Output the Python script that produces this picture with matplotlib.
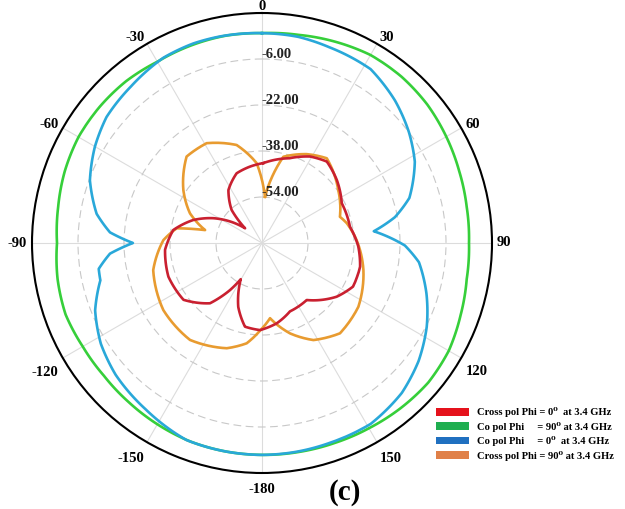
import numpy as np
import matplotlib
matplotlib.use("Agg")
import matplotlib.pyplot as plt
from matplotlib.patches import Patch
from matplotlib.transforms import offset_copy

# ---------------- data (angle in degrees clockwise from top, gain in dB) ----------------
green_ang = [0, 10, 20, 30, 40, 50, 60, 70, 80, 90, 100, 110, 120, 130, 140, 150, 160, 170,
             180, 190, 200, 210, 220, 230, 240, 250, 260, 270, 280, 290, 300, 310, 320, 330, 340, 350, 360]
green_db = [3.0, 3.5, 4.5, 5.5, 5.5, 5.0, 4.0, 3.0, 2.3, 2.0, 2.3, 3.5, 5.0, 5.5, 5.0, 4.4, 4.0, 3.8,
            3.7, 3.6, 3.4, 2.8, 2.2, 1.8, 2.0, 2.7, 2.2, 1.3, 2.0, 3.0, 3.7, 3.7, 3.5, 2.8, 3.0, 3.2, 3.0]

blue_ang = [0, 10, 19, 32, 43, 53, 62, 73, 79, 84, 91, 97, 107, 117, 127, 137, 149, 161, 171, 180,
            190, 201, 215, 228, 238, 248, 257, 261, 266, 270, 274, 280, 290, 300, 309, 320, 332, 341, 349, 360]
blue_db = [3.0, 2.8, 2.0, 1.3, -2.2, -6.0, -9.8, -16.4, -22.9, -30.9, -20.3, -15.0, -10.2, -5.7, -1.8,
           1.3, 3.4, 3.4, 3.6, 3.7, 3.6, 3.4, 0.6, -1.5, -3.9, -7.4, -12.3, -12.5, -17.0, -25.1, -17.0,
           -11.6, -6.3, -2.9, -0.4, 1.0, 3.0, 3.4, 3.3, 3.0]

red_ang = [1, 18, 29, 38.5, 50, 63.5, 79.5, 92, 103.6, 115.6, 125.7, 141.9, 157.8, 169.6, 181.3,
           191.5, 200.4, 210.4, 214.2, 220.8, 234.1, 250.2, 266, 278.3, 288.5, 297, 311, 317.4,
           327.6, 340, 351.1, 361]
red_db = [-42.2, -39.0, -35.6, -33.8, -36.0, -39.0, -38.9, -36.5, -34.9, -34.9, -38.0, -44.8, -44.3,
          -41.6, -39.7, -40.3, -46.3, -55.4, -50.2, -42.3, -36.3, -35.4, -36.2, -38.8, -44.8, -51.0,
          -62.2, -54.4, -48.2, -44.2, -43.1, -42.2]

orange_ang = [3.7, 13.9, 26.7, 37.4, 55.2, 71.4, 76.9, 88.2, 104.9, 123.5, 139.2, 152.1, 162.8, 173.9,
              181, 188.7, 198.5, 216.6, 235.8, 256, 271.7, 279.8, 282.8, 292.4, 304, 318.9, 331,
              345.5, 356.2, 363.7]
orange_db = [-53.9, -39.1, -35.4, -32.9, -37.7, -41.4, -39.7, -37.1, -33.5, -29.8, -28.5, -31.8, -37.1,
             -43.7, -39.7, -34.7, -31.4, -28.0, -28.5, -31.0, -35.7, -39.9, -49.7, -42.9, -37.0, -30.1,
             -30.3, -34.8, -42.2, -53.9]

ring_values = [-54, -38, -22, -6]
r_min, r_max = -70, 10
theta_ticks = [0, 30, 60, 90, 120, 150, 180, 210, 240, 270, 300, 330]
theta_labels = ['0', '30', '60', '90', '120', '150', '-180', '-150', '-120', '-90', '-60', '-30']

series = [
    ("Co pol Phi     = 90\u2070 at 3.4 GHz", green_ang, green_db, '#36cf3a', '#1fae50'),
    ("Co pol Phi     = 0\u2070  at 3.4 GHz", blue_ang, blue_db, '#29a8d9', '#2070c0'),
    ("Cross pol Phi = 90\u2070 at 3.4 GHz", orange_ang, orange_db, '#e89b30', '#e08048'),
    ("Cross pol Phi = 0\u2070  at 3.4 GHz", red_ang, red_db, '#c92030', '#e5121c'),
]
legend_order = [3, 0, 1, 2]

# ---------------- figure ----------------
serif = ['Liberation Serif', 'DejaVu Serif']
fig = plt.figure(figsize=(6.25, 5.09), dpi=100)
ax = fig.add_axes([32 / 625, 36 / 509, 460 / 625, 460 / 509], projection='polar')
ax.set_theta_zero_location('N')
ax.set_theta_direction(-1)
ax.set_ylim(r_min, r_max)

for label, ang, db, col, _ in series:
    line, = ax.plot(np.deg2rad(ang), db, color=col, lw=1.9, solid_joinstyle='round')
    # let the polar transform draw each segment as a curve in (theta, r) space
    line.get_path()._interpolation_steps = 16

# grid
ax.set_yticks(ring_values)
ax.set_yticklabels([])
ax.yaxis.grid(True, color='#c8c8c8', lw=0.8, ls=(0, (7, 4)))
ax.set_xticks(np.deg2rad(theta_ticks))
ax.set_xticklabels([])
ax.xaxis.grid(True, color='#dcdcdc', lw=0.8, ls='-')
ax.set_xticks(np.deg2rad(np.arange(0, 360, 5)), minor=True)
ax.tick_params(axis='x', which='major', direction='inout', length=11, width=1.1, color='black')
ax.tick_params(axis='x', which='minor', direction='in', length=4.5, width=1.0, color='black')
ax.spines['polar'].set_linewidth(1.5)
ax.spines['polar'].set_color('black')

# angle labels anchored just outside the tick ends, aligned by quadrant
r_lab = r_min + (r_max - r_min) * 235 / 230
shifted = offset_copy(ax.transData, fig=fig, x=0, y=-5, units='dots')
for a, txt in zip(theta_ticks, theta_labels):
    if a == 0:
        ha, va = 'center', 'bottom'
    elif a == 180:
        ha, va = 'center', 'top'
    elif a == 90:
        ha, va = 'left', 'center'
    elif a == 270:
        ha, va = 'right', 'center'
    elif a < 90:
        ha, va = 'left', 'bottom'
    elif a < 180:
        ha, va = 'left', 'top'
    elif a < 270:
        ha, va = 'right', 'top'
    else:
        ha, va = 'right', 'bottom'
    tr = ax.transData if a in (90, 270) else shifted
    ax.text(np.deg2rad(a), r_lab, txt, ha=ha, va=va, fontfamily=serif, fontweight='bold',
            fontsize=10.5, clip_on=False, transform=tr)

for v in ring_values:
    ax.text(0, v + 1.6, f"{v:.2f}", ha='left', va='center', fontfamily=serif,
            fontweight='bold', fontsize=10.5, color='#222222')

handles = [Patch(facecolor=series[i][4], edgecolor='none') for i in legend_order]
labels = [series[i][0] for i in legend_order]
fig.legend(handles, labels, loc='center left', bbox_to_anchor=(436 / 625, 1 - 434 / 509),
           frameon=False, prop={'family': serif, 'weight': 'bold', 'size': 7.6},
           handlelength=3.1, handleheight=0.75, handletextpad=0.75, labelspacing=0.42,
           borderpad=0, borderaxespad=0)

fig.text(345 / 625, 1 - 493 / 509, '(c)', ha='center', va='center', fontfamily=serif,
         fontweight='bold', fontsize=21)

fig.savefig('out.png', dpi=100)
